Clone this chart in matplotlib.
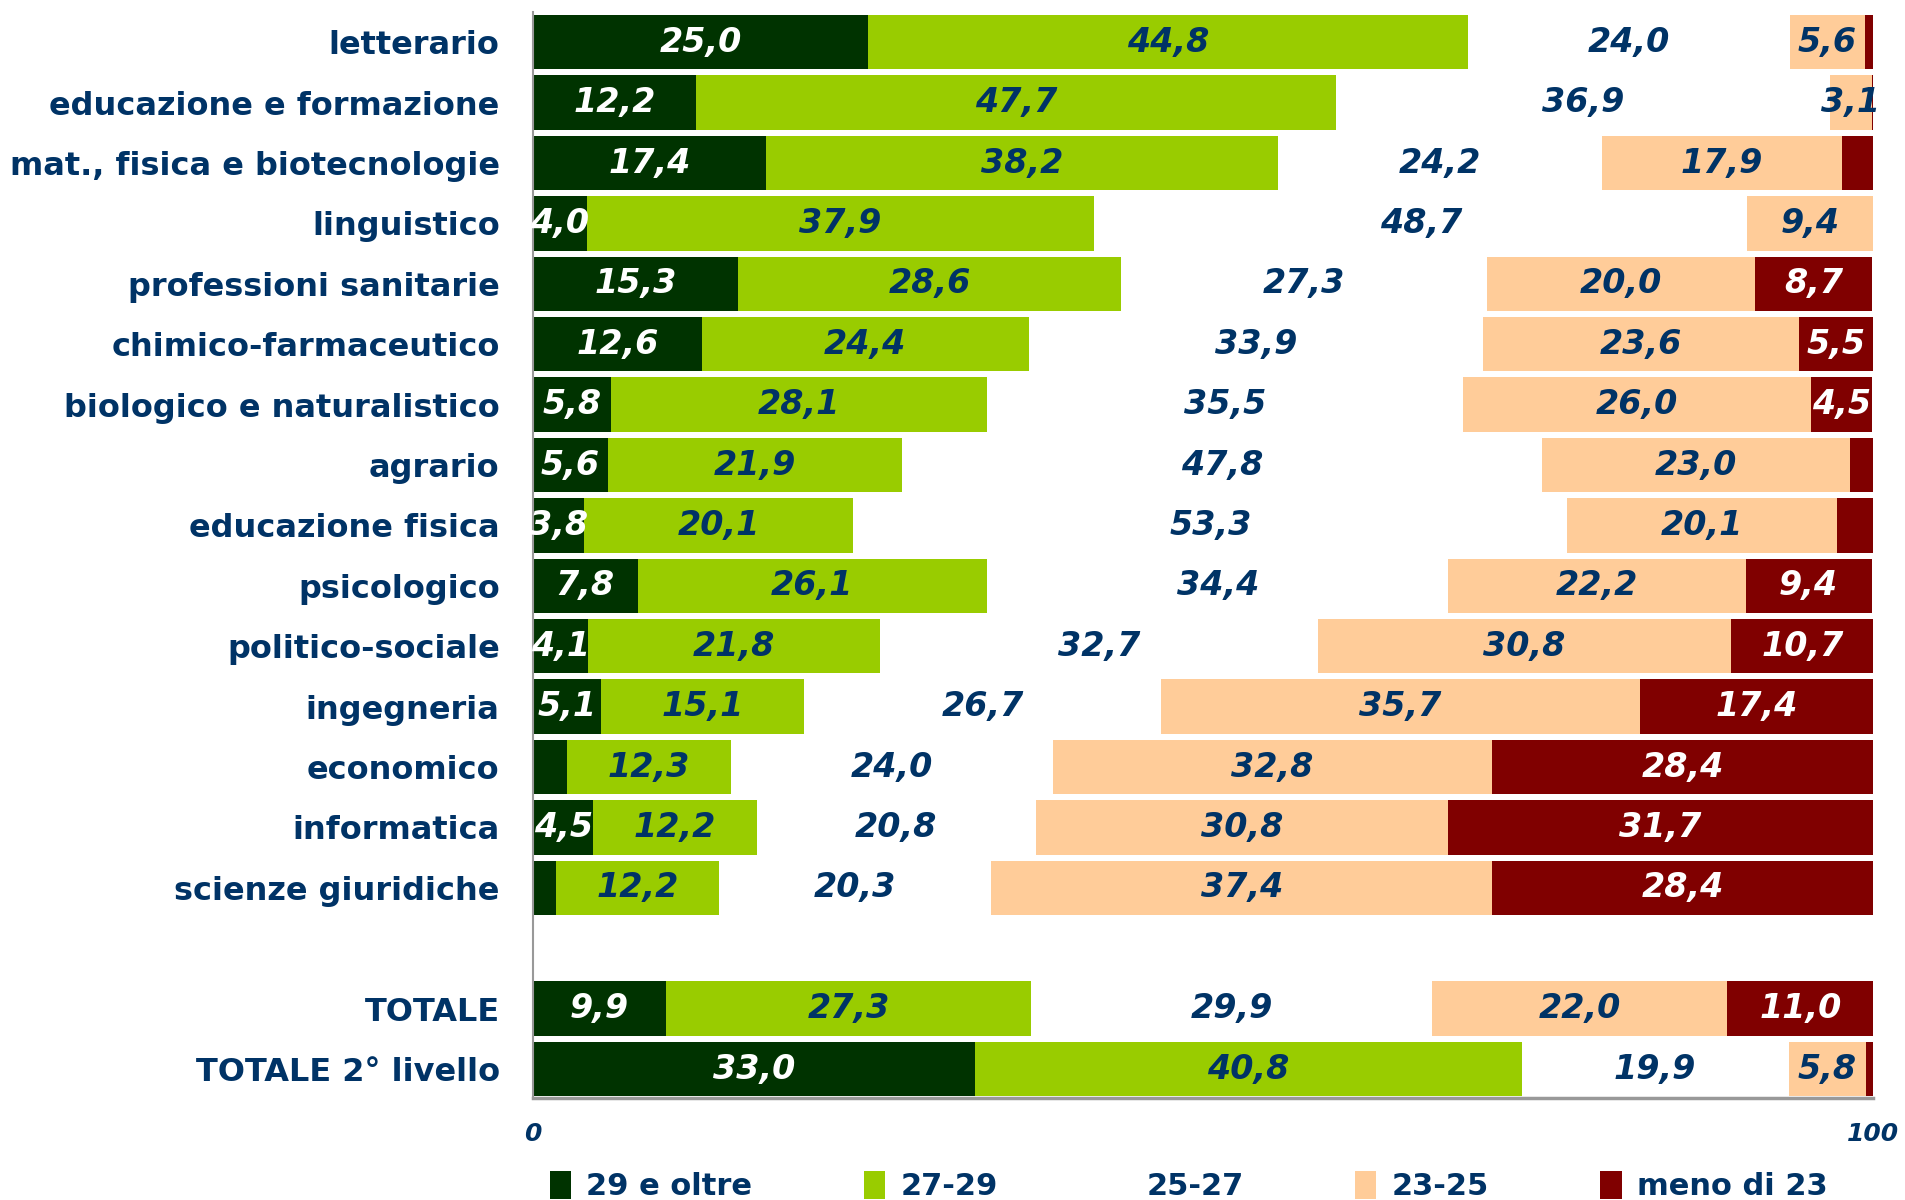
import matplotlib
matplotlib.use('Agg')
import matplotlib.pyplot as plt
import numpy as np

# Distribuzione dei voti per gruppo disciplinare (%)
categories = ['letterario', 'educazione e formazione', 'mat., fisica e biotecnologie',
              'linguistico', 'professioni sanitarie', 'chimico-farmaceutico',
              'biologico e naturalistico', 'agrario', 'educazione fisica', 'psicologico',
              'politico-sociale', 'ingegneria', 'economico', 'informatica',
              'scienze giuridiche', 'TOTALE', 'TOTALE 2° livello']
v29_oltre = [25.0, 12.2, 17.4, 4.0, 15.3, 12.6, 5.8, 5.6, 3.8, 7.8, 4.1, 5.1, 2.5, 4.5, 1.7, 9.9, 33.0]
v27_29 = [44.8, 47.7, 38.2, 37.9, 28.6, 24.4, 28.1, 21.9, 20.1, 26.1, 21.8, 15.1, 12.3, 12.2, 12.2, 27.3, 40.8]
v25_27 = [24.0, 36.9, 24.2, 48.7, 27.3, 33.9, 35.5, 47.8, 53.3, 34.4, 32.7, 26.7, 24.0, 20.8, 20.3, 29.9, 19.9]
v23_25 = [5.6, 3.1, 17.9, 9.4, 20.0, 23.6, 26.0, 23.0, 20.1, 22.2, 30.8, 35.7, 32.8, 30.8, 37.4, 22.0, 5.8]
v_meno23 = [0.6, 0.1, 2.3, 0.0, 8.7, 5.5, 4.5, 1.7, 2.7, 9.4, 10.7, 17.4, 28.4, 31.7, 28.4, 11.0, 0.5]

series = [v29_oltre, v27_29, v25_27, v23_25, v_meno23]
names = ['29 e oltre', '27-29', '25-27', '23-25', 'meno di 23']
colors = ['#003300', '#99CC00', '#FFFFFF', '#FFCC99', '#800000']
text_colors = ['white', '#003366', '#003366', '#003366', 'white']
navy = '#003366'

# posizioni: gap prima dei totali
ypos = list(range(15)) + [16, 17]

fig = plt.figure(figsize=(19.05, 12), dpi=100)
ax = fig.add_axes([0.2798, 0.085, 0.7034, 0.905])

left = np.zeros(len(categories))
for vals, name, col, tcol in zip(series, names, colors, text_colors):
    vals = np.array(vals)
    ax.barh(ypos, vals, left=left, height=0.9, color=col, label=name)
    for y, v, l in zip(ypos, vals, left):
        if v >= 3:
            ax.text(l + v / 2, y, f'{v:.1f}'.replace('.', ','), ha='center', va='center',
                    color=tcol, fontsize=24, fontweight='bold', fontstyle='italic')
    left += vals

ax.set_xlim(0, 100)
ax.set_ylim(17.48, -0.5)
ax.set_yticks(ypos)
ax.set_yticklabels(categories, fontsize=23, fontweight='bold', color=navy)
ax.set_xticks([0, 100])
ax.set_xticklabels(['0', '100'], fontsize=18, fontweight='bold', fontstyle='italic', color=navy)
ax.tick_params(axis='both', length=0)
ax.tick_params(axis='y', pad=24)
ax.tick_params(axis='x', pad=17)
for s in ['top', 'right']:
    ax.spines[s].set_visible(False)
ax.spines['left'].set_color('#999999')
ax.spines['left'].set_linewidth(1.5)
ax.spines['bottom'].set_color('#999999')
ax.spines['bottom'].set_linewidth(2.5)

leg = fig.legend(loc='lower center', bbox_to_anchor=(0.624, -0.024), ncol=5, frameon=False,
                 handlelength=0.7, handleheight=1.0, handletextpad=0.5, columnspacing=3.65,
                 prop={'size': 22, 'weight': 'bold'})
for t in leg.get_texts():
    t.set_color(navy)

fig.savefig('out.png', dpi=100)
